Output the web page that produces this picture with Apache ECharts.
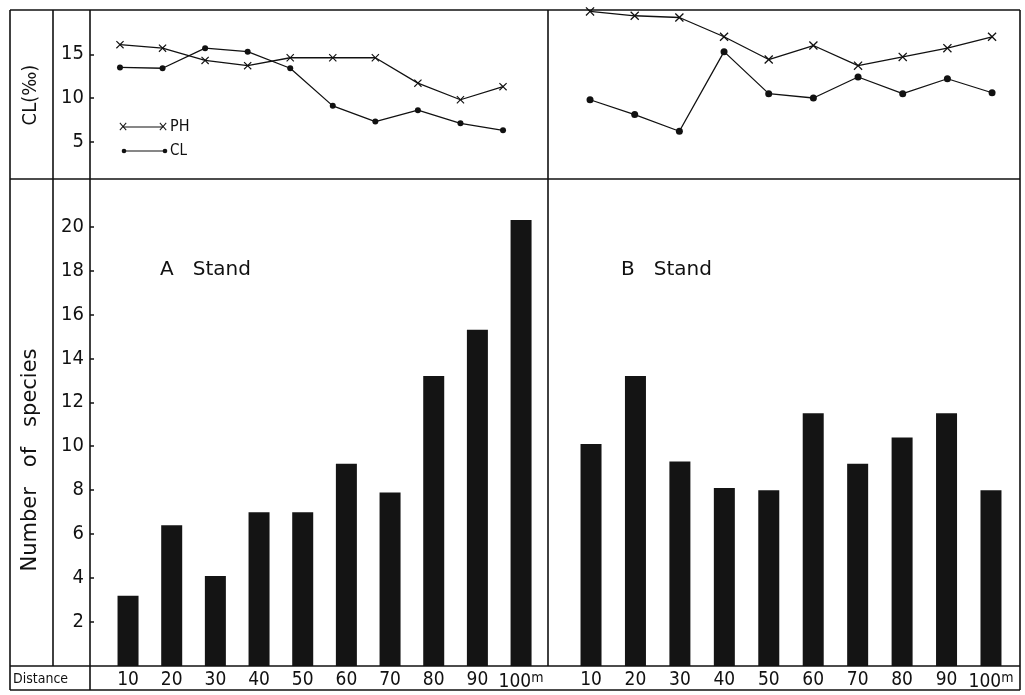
<!DOCTYPE html>
<html>
<head>
<meta charset="utf-8">
<script src="https://cdn.jsdelivr.net/npm/echarts@6/dist/echarts.min.js"></script>
<style>
html, body { margin: 0; padding: 0; background: #fff; }
#main { width: 1025px; height: 695px; }
</style>
</head>
<body>
<div id="main"></div>
<script>
// data
var distances = ['10', '20', '30', '40', '50', '60', '70', '80', '90', '100']
var phA = [16.1, 15.7, 14.3, 13.7, 14.6, 14.6, 14.6, 11.7, 9.8, 11.3]
var clA = [13.5, 13.4, 15.7, 15.3, 13.4, 9.1, 7.3, 8.6, 7.1, 6.3]
var phB = [19.9, 19.4, 19.2, 17.0, 14.4, 16.0, 13.7, 14.7, 15.7, 17.0]
var clB = [9.8, 8.1, 6.2, 15.3, 10.5, 10.0, 12.4, 10.5, 12.2, 10.6]
var speciesA = [3.2, 6.4, 4.1, 7.0, 7.0, 9.2, 7.9, 13.2, 15.3, 20.3]
var speciesB = [10.1, 13.2, 9.3, 8.1, 8.0, 11.5, 9.2, 10.4, 11.5, 8.0]
var clTicks = [5, 10, 15]
var speciesTicks = [2, 4, 6, 8, 10, 12, 14, 16, 18, 20]

var font = 'DejaVu Sans Condensed, DejaVu Sans, sans-serif'
var wideFont = 'DejaVu Sans, sans-serif'
var ink = '#111'
var crossPath = 'path://M0,1L1,0L5,4L9,0L10,1L6,5L10,9L9,10L5,6L1,10L0,9L4,5Z'

var myChart = echarts.init(document.getElementById('main'))

function frameLine (x1, y1, x2, y2) {
    return { type: 'line', z: 100, shape: { x1: x1, y1: y1, x2: x2, y2: y2 }, style: { stroke: ink, lineWidth: 1.6 } }
}

function distLabel (v) {
    return v === '100' ? '100{m|m}' : v
}

var topY = {
    type: 'value', min: 0.74, max: 20.06,
    axisLine: { show: false }, splitLine: { show: false },
    axisTick: { show: false }, axisLabel: { show: false }
}
var botY = {
    type: 'value', min: 0, max: 22.16,
    axisLine: { show: false }, splitLine: { show: false },
    axisTick: { show: false }, axisLabel: { show: false }
}
var bottomX = {
    type: 'category', data: distances, boundaryGap: true,
    axisLine: { show: false }, axisTick: { show: false },
    axisLabel: {
        interval: 0, hideOverlap: false,
        formatter: distLabel, margin: 5, color: ink, fontFamily: font, fontSize: 19,
        rich: { m: { fontSize: 14, fontFamily: font, color: ink, padding: [0, 0, 9, 0] } }
    }
}
var hiddenX = { type: 'category', data: distances, boundaryGap: true, show: false }

var lineStyle = { color: ink, width: 1.3 }

var option = {
    animation: false,
    backgroundColor: '#fff',
    textStyle: { fontFamily: font },
    grid: [
        { left: 98.7, top: 10, width: 425.6, height: 169 },
        { left: 567.7, top: 10, width: 446.7, height: 169 },
        { left: 106.2, top: 179, width: 436.7, height: 487 },
        { left: 568.8, top: 179, width: 444.4, height: 487 }
    ],
    xAxis: [
        Object.assign({ gridIndex: 0 }, hiddenX),
        Object.assign({ gridIndex: 1 }, hiddenX),
        Object.assign({ gridIndex: 2 }, bottomX),
        Object.assign({ gridIndex: 3 }, bottomX)
    ],
    yAxis: [
        Object.assign({}, topY, {
            gridIndex: 0, offset: 8.7,
            axisTick: { show: true, inside: true, length: 4, lineStyle: { color: ink, width: 1.5 }, customValues: clTicks },
            axisLabel: { show: true, customValues: clTicks, margin: 6, color: ink, fontFamily: font, fontSize: 20 }
        }),
        Object.assign({ gridIndex: 1 }, topY),
        Object.assign({}, botY, {
            gridIndex: 2, offset: 16.2,
            axisTick: { show: true, inside: true, length: 4, lineStyle: { color: ink, width: 1.5 }, customValues: speciesTicks },
            axisLabel: { show: true, customValues: speciesTicks, margin: 6, color: ink, fontFamily: font, fontSize: 20 }
        }),
        Object.assign({ gridIndex: 3 }, botY)
    ],
    series: [
        { name: 'PH', type: 'line', xAxisIndex: 0, yAxisIndex: 0, data: phA, symbol: crossPath, symbolSize: 8, lineStyle: lineStyle, itemStyle: { color: ink } },
        { name: 'CL', type: 'line', xAxisIndex: 0, yAxisIndex: 0, data: clA, symbol: 'circle', symbolSize: 6, lineStyle: lineStyle, itemStyle: { color: ink } },
        { name: 'PH', type: 'line', xAxisIndex: 1, yAxisIndex: 1, data: phB, symbol: crossPath, symbolSize: 9, lineStyle: lineStyle, itemStyle: { color: ink } },
        { name: 'CL', type: 'line', xAxisIndex: 1, yAxisIndex: 1, data: clB, symbol: 'circle', symbolSize: 7, lineStyle: lineStyle, itemStyle: { color: ink } },
        { name: 'A Stand', type: 'bar', xAxisIndex: 2, yAxisIndex: 2, data: speciesA, barWidth: 21, itemStyle: { color: '#141414' } },
        { name: 'B Stand', type: 'bar', xAxisIndex: 3, yAxisIndex: 3, data: speciesB, barWidth: 21, itemStyle: { color: '#141414' } }
    ],
    graphic: [
        // frame
        frameLine(10, 10, 1020, 10),
        frameLine(10, 690, 1020, 690),
        frameLine(10, 10, 10, 690),
        frameLine(1020, 10, 1020, 690),
        frameLine(10, 179, 1020, 179),
        frameLine(10, 666, 1020, 666),
        frameLine(53, 10, 53, 666),
        frameLine(90, 10, 90, 690),
        frameLine(548, 10, 548, 666),
        // axis titles
        { type: 'text', x: 31, y: 95, rotation: Math.PI / 2, style: { text: 'CL(‰)', font: '20px ' + font, fill: ink, align: 'center', verticalAlign: 'middle' } },
        { type: 'text', x: 31, y: 460, rotation: Math.PI / 2, style: { text: 'Number   of   species', font: '21px ' + wideFont, fill: ink, align: 'center', verticalAlign: 'middle' } },
        { type: 'text', x: 13, y: 679, style: { text: 'Distance', font: '14px ' + font, fill: ink, verticalAlign: 'middle' } },
        // stand labels
        { type: 'text', x: 160, y: 270, style: { text: 'A   Stand', font: '20px ' + wideFont, fill: ink, verticalAlign: 'middle' } },
        { type: 'text', x: 621, y: 270, style: { text: 'B   Stand', font: '20px ' + wideFont, fill: ink, verticalAlign: 'middle' } },
        // legend
        { type: 'line', shape: { x1: 123, y1: 127, x2: 163, y2: 127 }, style: { stroke: ink, lineWidth: 1.2 } },
        { type: 'text', x: 123, y: 127, style: { text: '×', font: '14px ' + font, fill: ink, align: 'center', verticalAlign: 'middle' } },
        { type: 'text', x: 163, y: 127, style: { text: '×', font: '14px ' + font, fill: ink, align: 'center', verticalAlign: 'middle' } },
        { type: 'text', x: 170, y: 127, style: { text: 'PH', font: '16px ' + font, fill: ink, verticalAlign: 'middle' } },
        { type: 'line', shape: { x1: 124, y1: 151, x2: 165, y2: 151 }, style: { stroke: ink, lineWidth: 1.2 } },
        { type: 'circle', shape: { cx: 124, cy: 151, r: 2.3 }, style: { fill: ink } },
        { type: 'circle', shape: { cx: 165, cy: 151, r: 2.3 }, style: { fill: ink } },
        { type: 'text', x: 170, y: 151, style: { text: 'CL', font: '15px ' + font, fill: ink, verticalAlign: 'middle' } }
    ]
}

myChart.setOption(option)
</script>
</body>
</html>
